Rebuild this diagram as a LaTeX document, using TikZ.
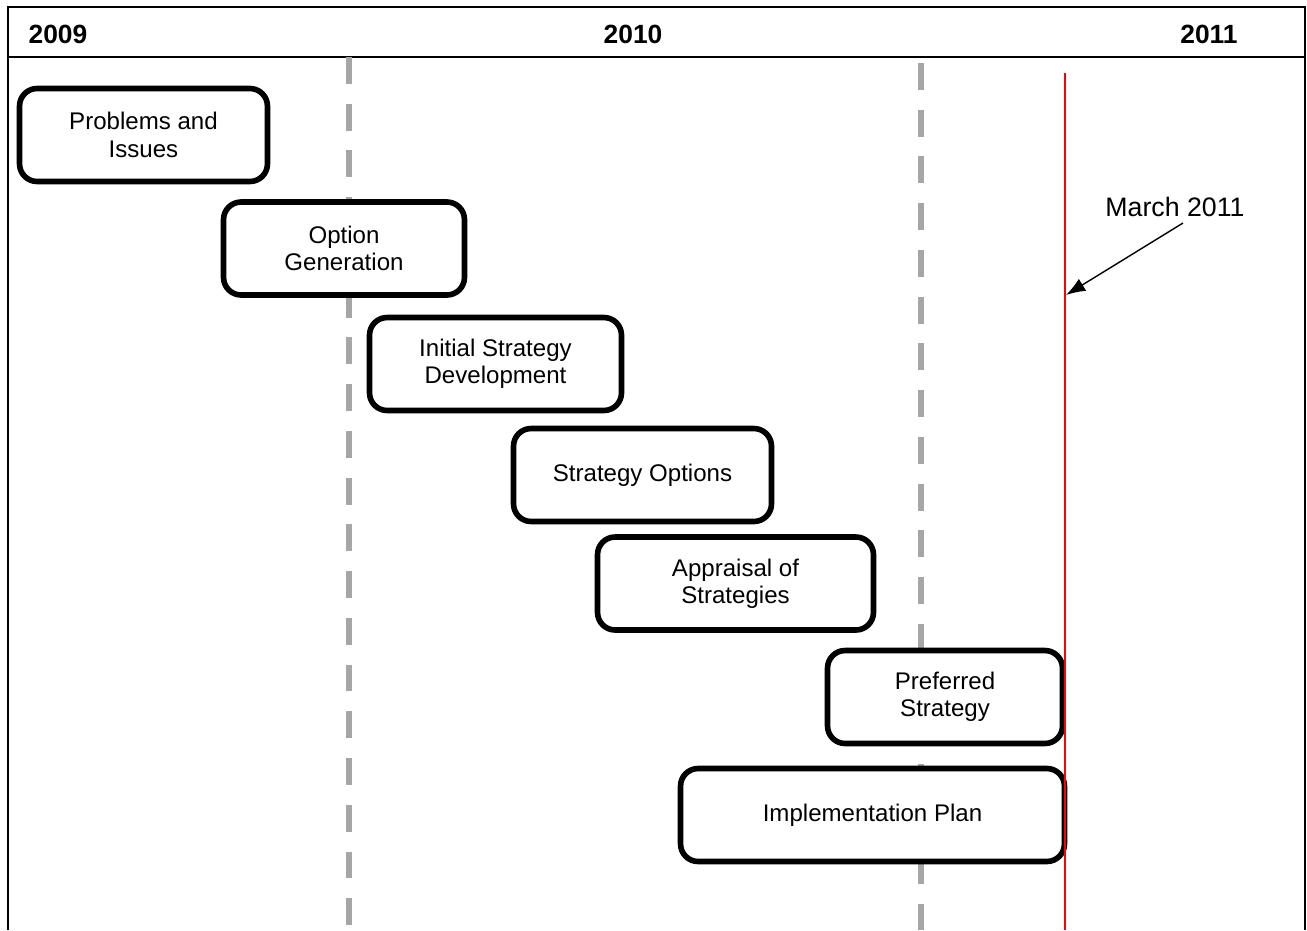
\documentclass[tikz,border=0pt]{standalone}
\usepackage{fontspec}
\setmainfont{Liberation Sans}
\usetikzlibrary{arrows.meta}
\definecolor{phasegray}{HTML}{A6A6A6}

\begin{document}
\begin{tikzpicture}[x=0.02cm, y=-0.02cm,
  stage/.style={draw, fill=white, line width=3.2pt, rounded corners=10pt,
    minimum height=1.86cm, align=center, font=\fontsize{13.7}{15.6}\selectfont},
  yearlbl/.style={font=\fontsize{15}{18}\selectfont\bfseries},
  phaseline/.style={line width=3.4pt, phasegray, dash pattern=on 15.3pt off 11.3pt}]
\useasboundingbox (0,0) rectangle (1307,930);

% frame and year header
\draw[line width=1.4pt] (8,930) -- (8,7) -- (1305,7) -- (1305,930);
\draw[line width=1.4pt] (8,57) -- (1305,57);
\node[yearlbl] (y2009) at (58,34) {2009};
\node[yearlbl] (y2010) at (633,34) {2010};
\node[yearlbl] (y2011) at (1209,34) {2011};

% year boundaries
\draw[phaseline] (349,57) -- (349,930);
\draw[phaseline] (921,63) -- (921,930);

% stages
\node[stage, minimum width=4.96cm] (probs) at (143.5,135) {Problems and\\Issues};
\node[stage, minimum width=4.82cm] (optgen) at (344,248.5) {Option\\Generation};
\node[stage, minimum width=5.04cm] (initstrat) at (495.5,364) {Initial Strategy\\Development};
\node[stage, minimum width=5.16cm] (stratopts) at (642.5,475) {Strategy Options};
\node[stage, minimum width=5.52cm] (appraisal) at (735.5,583.5) {Appraisal of\\Strategies};
\node[stage, minimum width=4.7cm] (preferred) at (945,697) {Preferred\\Strategy};
\node[stage, minimum width=7.68cm] (implplan) at (872.5,815) {Implementation Plan};

% deadline
\draw[red, line width=1.1pt] (1065,73) -- (1065,930);
\node[font=\fontsize{15.2}{18}\selectfont] (march) at (1175,207) {March 2011};
\coordinate (deadline) at (1066,295);
\draw[line width=0.8pt, -{Latex[length=11pt,width=8pt]}] ([xshift=0.16cm]march.south) -- (deadline);
\end{tikzpicture}
\end{document}
